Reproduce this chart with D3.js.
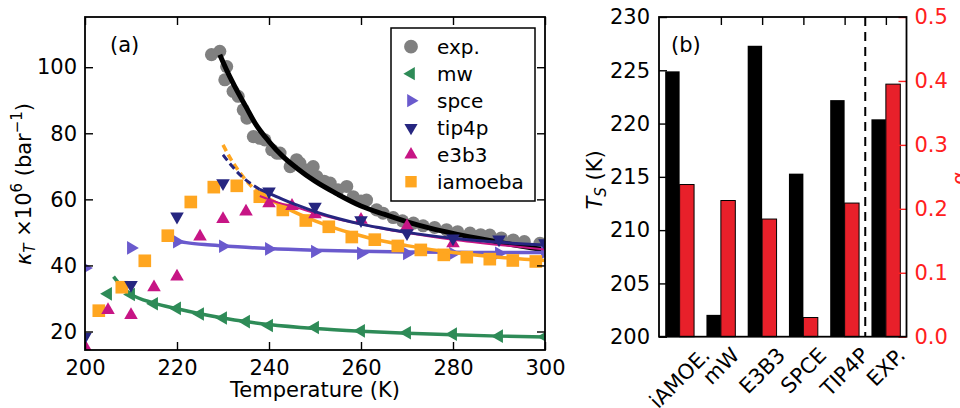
<!DOCTYPE html>
<html>
<head>
<meta charset="utf-8">
<script src="https://cdn.jsdelivr.net/npm/d3@7"></script>
<style>
body { margin: 0; background: #fff; }
svg text { font-family: "DejaVu Sans", sans-serif; }
</style>
</head>
<body>
<svg id="chart" width="960" height="408"></svg>
<script>
// ---- panel (a): compressibility vs temperature ----
const expT = [227.5,229.3,230.4,230.8,232.2,233.3,234.4,235.2,236.6,238,239.1,240.6,241.7,242.4,244.6,246,246.7,248.2,249.6,250.4,252,253.3,255,256.9,258.3,260,261.2,263.4,264.8,267,269,271.4,273.5,276,278.6,281,283.7,286,288,290.5,293.1,295.5,298.9,300];
const expK = [103.8,104.8,96.2,100.2,92.7,91.2,87.1,84.6,79.0,78.5,78.0,75.0,74.0,74.0,69.9,72.0,71.0,68.9,69.9,66.9,65.5,64.9,62.9,63.9,60.8,59.5,59.8,56.8,55.8,54.5,53.5,52.8,52.0,51.5,50.8,50.2,49.8,49.3,49.2,48.3,47.7,47.2,46.7,46.5];
const expFitT = [229.3,231,233,235,237,240,243,246,250,255,260,265,270,275,280,285,290,295,300];
const expFitK = [103.8,98.5,93,88,83,77.5,73,69.5,65.5,61.5,58,55.5,53.2,51.3,49.7,48.3,47,45.8,44.7];

const mwT = [205,210,215,220,225,230,235,240,250,260,270,280,290,300];
const mwK = [31.4,31.2,28.4,27.0,25.3,24.1,23.0,21.8,21.2,20.2,19.6,19.2,18.6,18.4];
const mwFitT = [206.2,207.6,210,215,220,225,230,235,240,250,260,270,280,290,300];
const mwFitK = [36.6,34.1,31.3,28.6,26.9,25.4,24.1,23.0,22.1,20.9,20.1,19.5,19.0,18.6,18.3];

const spceT = [200,210,220,230,240,250,260,270,280,290,300];
const spceK = [39.2,45.3,47.2,45.8,45.0,44.2,43.7,43.6,43.6,43.7,43.9];
const spceFitT = [217,219,222,226,230,235,240,250,260,270,280,290,300];
const spceFitK = [48.7,47.6,46.9,46.3,45.9,45.5,45.1,44.6,44.3,44.1,44.0,43.9,43.9];

const tip4pT = [200,210,220,230,240,250,260,270,280,290,300];
const tip4pK = [18.4,34.1,54.8,64.9,62.4,57.8,53.7,49.8,48.2,47.9,46.7];
const tip4pFitT = [230,232,234,236,238,240,243,246,250,255,260,265,270,280,290,300];
const tip4pFitK = [73.5,70,67,64.8,63,61.8,60,58.3,56.3,54.2,52.5,51.2,50,48.2,47,46.2];

const e3b3T = [200,205,210,215,220,225,230,235,240,245,250,260,270,280];
const e3b3K = [15.4,26.5,25.0,33.4,36.6,48.7,54.0,56.3,58.8,58.0,55.5,53.8,51.8,46.7];
const e3b3FitT = [238,242,246,250,255,260,265,270,280,290,300];
const e3b3FitK = [61,59,57.5,55.8,54,52.5,51,49.8,47.8,46.2,44.8];

const iamT = [203,208,213,218,223,228,233,238,243,248,253,258,263,268,273,278,283,288,293,298];
const iamK = [26.3,33.4,41.4,49.0,59.2,63.7,64.1,60.8,56.8,53.6,51.7,48.6,47.8,45.9,44.7,43.2,42.5,41.9,41.5,41.2];
const iamFitT = [230,232,234,237,240,245,250,255,260,265,270,280,290,300];
const iamFitK = [76.5,71.5,67.5,62.8,60.2,56.5,53.5,51,49,47.3,46,43.9,42.5,41.5];

const xTicksA = [200,220,240,260,280,300];
const yTicksA = [20,40,60,80,100];

// ---- panel (b): bars ----
const categories = ['iAMOE.','mW','E3B3','SPCE','TIP4P','EXP.'];
const tsValues = [224.9,202.05,227.3,215.3,222.2,220.4];
const redValues = [0.238,0.213,0.184,0.030,0.209,0.395];
const yTicksB = [200,205,210,215,220,225,230];
const rTicksB = [0,0.1,0.2,0.3,0.4,0.5];

const svg = d3.select('#chart');
const zip = (a, b) => a.map((v, i) => [v, b[i]]);

// ================= panel (a) =================
const xa = d3.scaleLinear().domain([200,300]).range([85,545]);
const ya = d3.scaleLinear().domain([14.4,115.2]).range([350,17]);

svg.append('defs').append('clipPath').attr('id','clipA')
	.append('rect').attr('x',85).attr('y',17).attr('width',460).attr('height',333);

const gA = svg.append('g');
const marks = gA.append('g').attr('clip-path','url(#clipA)');

const line = d3.line().x(d => xa(d[0])).y(d => ya(d[1])).curve(d3.curveMonotoneX);

function fitLine(T, K, color, width, solidFrom) {
	let pts = zip(T, K);
	let dashed = pts.filter(d => d[0] <= solidFrom);
	let solid = pts.filter(d => d[0] >= solidFrom);
	if (dashed.length > 1)
		marks.append('path').attr('d', line(dashed)).attr('fill','none')
			.attr('stroke', color).attr('stroke-width', width).attr('stroke-dasharray','7,4');
	marks.append('path').attr('d', line(solid)).attr('fill','none')
		.attr('stroke', color).attr('stroke-width', width);
}

function scatter(T, K, color, type, size, rot) {
	marks.selectAll(null).data(zip(T, K)).enter().append('path')
		.attr('d', d3.symbol().type(type).size(size))
		.attr('transform', d => 'translate(' + xa(d[0]) + ',' + ya(d[1]) + ') rotate(' + rot + ')')
		.attr('fill', color);
}

const cExp = '#808080', cMw = '#2e8b57', cSpce = '#6a5acd', cTip = '#262680', cE3 = '#c71585', cIam = '#ffa620';

scatter(expT, expK, cExp, d3.symbolCircle, 135, 0);
fitLine(expFitT, expFitK, '#000', 5, 0);
scatter(mwT, mwK, cMw, d3.symbolTriangle, 80, -90);
fitLine(mwFitT, mwFitK, cMw, 3.5, 207.6);
scatter(spceT, spceK, cSpce, d3.symbolTriangle, 80, 90);
fitLine(spceFitT, spceFitK, cSpce, 3.5, 219);
scatter(iamT, iamK, cIam, d3.symbolSquare, 160, 0);
fitLine(iamFitT, iamFitK, cIam, 3.5, 237);
scatter(e3b3T, e3b3K, cE3, d3.symbolTriangle, 80, 0);
fitLine(e3b3FitT, e3b3FitK, cE3, 2, 0);
scatter(tip4pT, tip4pK, cTip, d3.symbolTriangle, 80, 180);
fitLine(tip4pFitT, tip4pFitK, cTip, 3, 238);

// axes (ticks inward on all sides)
function styleAxis(g) {
	g.select('.domain').remove();
	g.selectAll('line').attr('stroke-width', 1.4);
	g.selectAll('text').attr('font-size', 21).attr('font-family', '"DejaVu Sans", sans-serif').attr('fill', '#000');
}
gA.append('g').attr('transform','translate(0,350)')
	.call(d3.axisBottom(xa).tickValues(xTicksA).tickSizeInner(-8).tickSizeOuter(0).tickPadding(10).tickFormat(d3.format('d')))
	.call(styleAxis);
gA.append('g').attr('transform','translate(0,17)')
	.call(d3.axisTop(xa).tickValues(xTicksA).tickSizeInner(-8).tickSizeOuter(0).tickFormat(''))
	.call(styleAxis);
gA.append('g').attr('transform','translate(85,0)')
	.call(d3.axisLeft(ya).tickValues(yTicksA).tickSizeInner(-8).tickSizeOuter(0).tickPadding(8).tickFormat(d3.format('d')))
	.call(styleAxis);
gA.append('g').attr('transform','translate(545,0)')
	.call(d3.axisRight(ya).tickValues(yTicksA).tickSizeInner(-8).tickSizeOuter(0).tickFormat(''))
	.call(styleAxis);
gA.append('rect').attr('x',85).attr('y',17).attr('width',460).attr('height',333)
	.attr('fill','none').attr('stroke','#000').attr('stroke-width',1.8);

gA.append('text').attr('x',110).attr('y',52).attr('font-size',21).text('(a)');
gA.append('text').attr('x',315).attr('y',397).attr('font-size',21).attr('text-anchor','middle').text('Temperature (K)');

const yTitle = gA.append('text').attr('transform','translate(31,184) rotate(-90)')
	.attr('font-size',21).attr('text-anchor','middle');
yTitle.append('tspan').attr('font-style','italic').text('κ');
yTitle.append('tspan').attr('font-style','italic').attr('font-size',15).attr('dy',4).text('T');
yTitle.append('tspan').attr('dy',-4).text(' ×10');
yTitle.append('tspan').attr('font-size',15).attr('dy',-9).text('6');
yTitle.append('tspan').attr('dy',9).text(' (bar');
yTitle.append('tspan').attr('font-size',15).attr('dy',-9).text('−1');
yTitle.append('tspan').attr('dy',9).text(')');

// legend
const legendItems = [
	{name:'exp.', color:cExp, type:d3.symbolCircle, size:150, rot:0},
	{name:'mw', color:cMw, type:d3.symbolTriangle, size:75, rot:-90},
	{name:'spce', color:cSpce, type:d3.symbolTriangle, size:75, rot:90},
	{name:'tip4p', color:cTip, type:d3.symbolTriangle, size:75, rot:180},
	{name:'e3b3', color:cE3, type:d3.symbolTriangle, size:75, rot:0},
	{name:'iamoeba', color:cIam, type:d3.symbolSquare, size:130, rot:0}
];
const leg = gA.append('g');
leg.append('rect').attr('x',391).attr('y',28).attr('width',144).attr('height',173)
	.attr('fill','#fff').attr('stroke','#000').attr('stroke-width',1.5);
legendItems.forEach((it, i) => {
	let cy = 46.7 + i * 27;
	leg.append('path').attr('d', d3.symbol().type(it.type).size(it.size))
		.attr('transform','translate(411,' + cy + ') rotate(' + it.rot + ')').attr('fill', it.color);
	leg.append('text').attr('x',437).attr('y',cy + 7).attr('font-size',20).text(it.name);
});

// ================= panel (b) =================
const xb = d3.scaleLinear().domain([-0.5,5.5]).range([659,906.5]);
const yb = d3.scaleLinear().domain([200,230]).range([336.7,17]);
const yr = d3.scaleLinear().domain([0,0.5]).range([336.7,17]);
const bw = 0.35;
const gB = svg.append('g');

gB.selectAll('.blk').data(tsValues).enter().append('rect')
	.attr('x', (d, i) => xb(i - bw)).attr('width', xb(bw) - xb(0))
	.attr('y', d => yb(d)).attr('height', d => yb(200) - yb(d))
	.attr('fill','#000');
gB.selectAll('.red').data(redValues).enter().append('rect')
	.attr('x', (d, i) => xb(i)).attr('width', xb(bw) - xb(0))
	.attr('y', d => yr(d)).attr('height', d => yr(0) - yr(d))
	.attr('fill','#e8202a').attr('stroke','#000').attr('stroke-width',1);

gB.append('line').attr('x1', xb(4.5)).attr('x2', xb(4.5)).attr('y1',17).attr('y2',336.7)
	.attr('stroke','#000').attr('stroke-width',2).attr('stroke-dasharray','9,6');

gB.append('g').attr('transform','translate(659,0)')
	.call(d3.axisLeft(yb).tickValues(yTicksB).tickSizeInner(-8).tickSizeOuter(0).tickPadding(9).tickFormat(d3.format('d')))
	.call(styleAxis);
const rAx = gB.append('g').attr('transform','translate(906.5,0)')
	.call(d3.axisRight(yr).tickValues(rTicksB).tickSizeInner(-8).tickSizeOuter(0).tickPadding(8).tickFormat(d3.format('.1f')))
	.call(styleAxis);
rAx.selectAll('line').attr('stroke','#ff2020');
rAx.selectAll('text').attr('fill','#ff2020');
gB.append('g').attr('transform','translate(0,17)')
	.call(d3.axisTop(xb).tickValues([1,2,3,4,5]).tickSizeInner(-8).tickSizeOuter(0).tickFormat(''))
	.call(styleAxis);
gB.append('rect').attr('x',659).attr('y',17).attr('width',247.5).attr('height',319.7)
	.attr('fill','none').attr('stroke','#000').attr('stroke-width',1.8);

gB.append('text').attr('x',671).attr('y',52).attr('font-size',21).text('(b)');

// rotated category labels (centered on tick, top aligned)
categories.forEach((c, i) => {
	let t = gB.append('text').attr('font-size',21).attr('text-anchor','middle').attr('dy','0.35em').text(c);
	let w = t.node().getComputedTextLength();
	let H = (w + 21) * Math.SQRT1_2;
	let cx = xb(i), cy = 344 + H / 2;
	t.attr('x', cx).attr('y', cy).attr('transform','rotate(-45,' + cx + ',' + cy + ')');
});

const tsTitle = gB.append('text').attr('transform','translate(602,180) rotate(-90)')
	.attr('font-size',21).attr('text-anchor','middle');
tsTitle.append('tspan').attr('font-style','italic').text('T');
tsTitle.append('tspan').attr('font-style','italic').attr('font-size',15).attr('dy',4).text('S');
tsTitle.append('tspan').attr('dy',-4).text(' (K)');

gB.append('text').attr('transform','translate(967,178) rotate(-90)')
	.attr('font-size',21).attr('text-anchor','middle').attr('fill','#ff2020').text('α');
</script>
</body>
</html>
